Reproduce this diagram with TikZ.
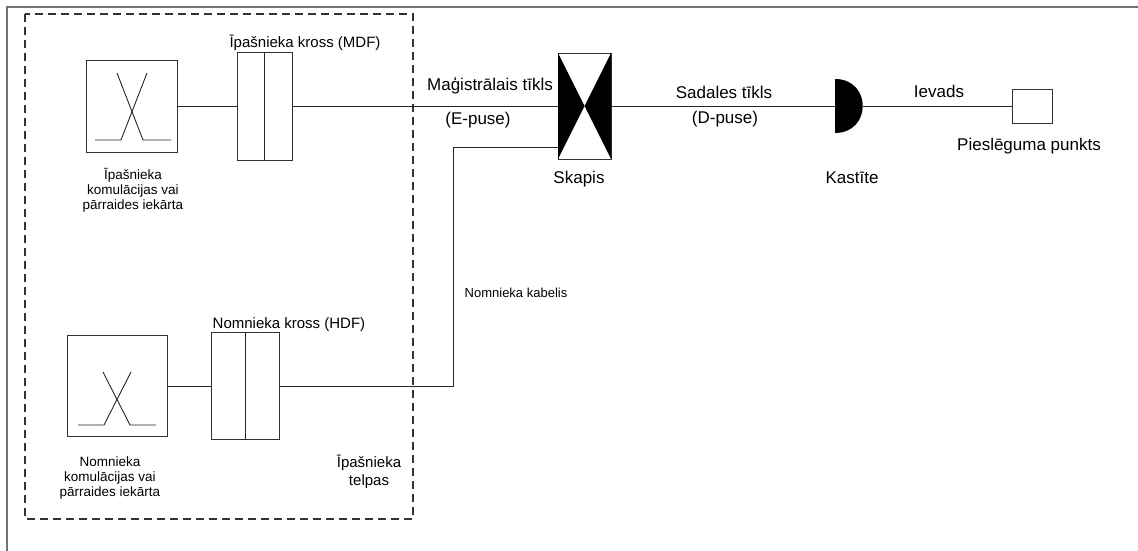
\documentclass[tikz,border=0pt]{standalone}
\usepackage{fontspec}
\setmainfont{Liberation Sans}
\begin{document}
\begin{tikzpicture}[x=1pt,y=-1pt,
  conn/.style={draw=black!85, line width=0.9pt},
  unit/.style={draw=black!80, line width=0.9pt, inner sep=0pt, outer sep=0pt},
  frameline/.style={draw=black!55, line width=1.4pt},
  zone/.style={draw=black!80, line width=1.2pt, dash pattern=on 8pt off 5pt},
  big/.style={inner sep=0pt, font=\fontsize{17}{20}\selectfont},
  mid/.style={inner sep=0pt, font=\fontsize{15}{18}\selectfont, align=center},
  small/.style={inner sep=0pt, font=\fontsize{13.5}{15}\selectfont, align=center}]
\useasboundingbox (0,0) rectangle (1138,551);
% outer frame
\draw[frameline] (7,551) -- (7,7) -- (1138,7);
% owner premises zone
\draw[zone] (25,14) rectangle (413,519);

% upper equipment
\node[unit, minimum width=91pt, minimum height=92pt] (eq1) at (131.5,106) {};
\draw[conn] ([shift={(-14.5,-33)}]eq1.center) -- ([shift={(11.5,34)}]eq1.center) -- ([shift={(39.5,34)}]eq1.center);
\draw[conn] ([shift={(15.5,-33)}]eq1.center) -- ([shift={(-10.5,34)}]eq1.center) -- ([shift={(-36.5,34)}]eq1.center);
\node[small] (eq1lab) at (133,190) {Īpašnieka\\komulācijas vai\\pārraides iekārta};

% MDF
\node[unit, minimum width=55pt, minimum height=108pt] (mdf) at (264.5,106) {};
\draw[conn] (mdf.north) -- (mdf.south);
\node[mid] (mdflab) at (305,43) {Īpašnieka kross (MDF)};

% lower equipment
\node[unit, minimum width=100pt, minimum height=101pt] (eq2) at (117,386) {};
\draw[conn] ([shift={(-14,-14)}]eq2.center) -- ([shift={(13,39)}]eq2.center) -- ([shift={(39,39)}]eq2.center);
\draw[conn] ([shift={(14,-14)}]eq2.center) -- ([shift={(-13,39)}]eq2.center) -- ([shift={(-39,39)}]eq2.center);
\node[small] (eq2lab) at (110,478) {Nomnieka\\komulācijas vai\\pārraides iekārta};

% HDF
\node[unit, minimum width=68pt, minimum height=107pt] (hdf) at (245,386) {};
\draw[conn] (hdf.north) -- (hdf.south);
\node[mid] (hdflab) at (289,325) {Nomnieka kross (HDF)};

\node[mid] (zonelab) at (369,472) {Īpašnieka\\telpas};

% cabinet
\node[unit, minimum width=53pt, minimum height=106pt] (skapis) at (584.5,106) {};
\fill[black] (skapis.north west) -- (skapis.center) -- (skapis.south west) -- cycle;
\fill[black] (skapis.north east) -- (skapis.center) -- (skapis.south east) -- cycle;
\node[big] (skapislab) at (579,179) {Skapis};

% box (Kastite)
\node[inner sep=0pt, outer sep=0pt, minimum width=28pt, minimum height=54pt] (kast) at (849,106) {};
\fill[black] (kast.north west) .. controls ([xshift=37pt]kast.north west) and ([xshift=37pt]kast.south west) .. (kast.south west) -- cycle;
\node[big] (kastlab) at (852,178) {Kastīte};

% connection point
\node[unit, minimum width=40pt, minimum height=34pt] (pp) at (1032,106) {};
\node[big] (pplab) at (1029,146) {Pieslēguma punkts};

% connectors
\draw[conn] (eq1.east) -- (mdf.west);
\draw[conn] (mdf.east) -- (skapis.west);
\draw[conn] (skapis.east) -- (kast.west);
\draw[conn] (kast.east) -- (pp.west);
\draw[conn] (eq2.east) -- (hdf.west);
\coordinate (bend) at (453,147);
\draw[conn] (hdf.east) -| (bend) -- (bend -| skapis.west);

% line labels
\node[big] (maglab) at (490,86) {Maģistrālais tīkls};
\node[big] (elab) at (478,120) {(E-puse)};
\node[big] (sadlab) at (724,92) {Sadales tīkls};
\node[big] (dlab) at (725,119) {(D-puse)};
\node[big] (ievlab) at (939,91) {Ievads};
\node[small, font=\fontsize{13}{15}\selectfont] (kablab) at (516,293) {Nomnieka kabelis};
\end{tikzpicture}
\end{document}
